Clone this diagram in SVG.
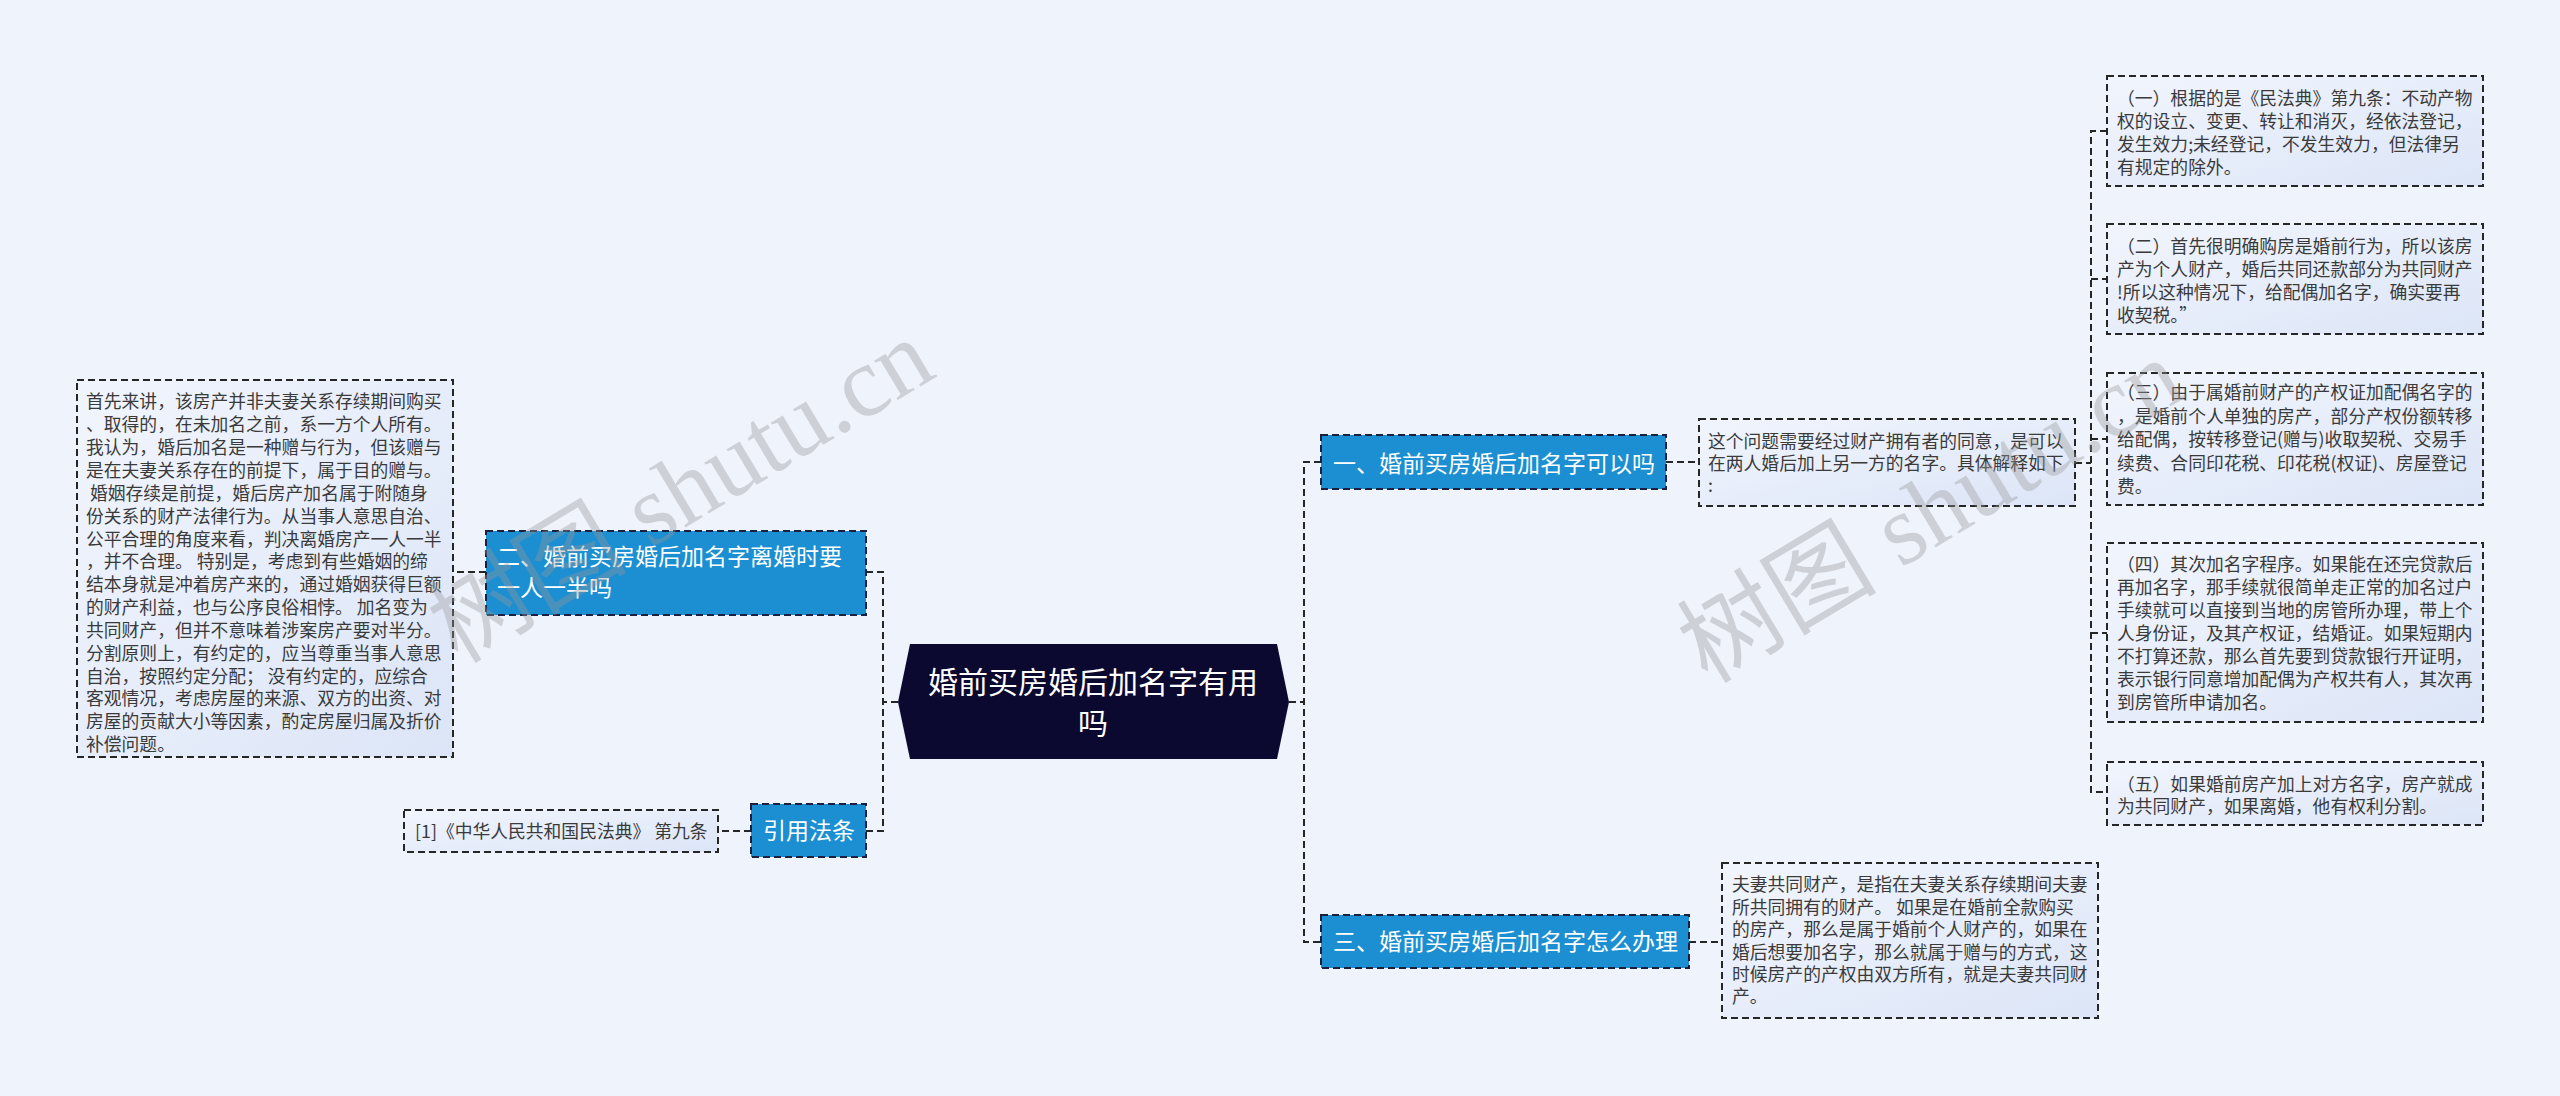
<svg xmlns="http://www.w3.org/2000/svg" width="2560" height="1096" viewBox="0 0 2560 1096">
<defs>
<linearGradient id="leafFill" x1="0" y1="0" x2="1" y2="1">
<stop offset="0" stop-color="#f1f5fd"/>
<stop offset="1" stop-color="#dce5f7"/>
</linearGradient>
</defs>
<style>
text{font-family:"Noto Sans CJK SC","Noto Sans",sans-serif;}
.leaf{fill:url(#leafFill);stroke:#262626;stroke-width:2;stroke-dasharray:7 4;}
.branch{fill:#1b8fd1;stroke:#1a2040;stroke-width:2;stroke-dasharray:7 4;}
.root{fill:#0b0930;}
.lt{font-size:17.8px;fill:#3a3a3a;}
.bt{font-size:23px;fill:#ffffff;}
.rt{font-size:30px;fill:#ffffff;}
.conn{fill:none;stroke:#262626;stroke-width:2;stroke-dasharray:7 4;}
.wm{font-family:"Liberation Serif","Noto Sans CJK SC",serif;font-size:100px;fill:#999999;fill-opacity:0.38;}
</style>
<rect x="0" y="0" width="2560" height="1096" fill="#eef3fc"/>

<g id="connectors">
<path class="conn" d="M898,702 H883"/>
<path class="conn" d="M866,572 H883 V831 H866"/>
<path class="conn" d="M751,831 H718"/>
<path class="conn" d="M486,572 H453"/>
<path class="conn" d="M1289,702 H1304"/>
<path class="conn" d="M1321,462 H1304 V942 H1321"/>
<path class="conn" d="M1666,462 H1699"/>
<path class="conn" d="M1689,942 H1722"/>
<path class="conn" d="M2075,463 H2091"/>
<path class="conn" d="M2107,131 H2091 V792 H2107"/>
<path class="conn" d="M2091,279 H2107"/>
<path class="conn" d="M2091,439 H2107"/>
<path class="conn" d="M2091,633 H2107"/>
</g>

<g id="root">
<polygon class="root" points="910,644 1277,644 1289,702 1277,759 910,759 898,702"/>
<text class="rt" x="1093" y="693" text-anchor="middle">婚前买房婚后加名字有用</text>
<text class="rt" x="1093" y="734" text-anchor="middle">吗</text>
</g>

<g id="branch2">
<rect class="branch" x="486" y="531" width="380" height="84"/>
<text class="bt" x="497" y="565">二、婚前买房婚后加名字离婚时要</text>
<text class="bt" x="497" y="596">一人一半吗</text>
</g>

<g id="leaf2">
<rect class="leaf" x="77" y="380" width="376" height="377"/>
<text class="lt" x="86" y="408.4">
<tspan x="86">首先来讲，该房产并非夫妻关系存续期间购买</tspan>
<tspan x="86" dy="22.85">、取得的，在未加名之前，系一方个人所有。</tspan>
<tspan x="86" dy="22.85">我认为，婚后加名是一种赠与行为，但该赠与</tspan>
<tspan x="86" dy="22.85">是在夫妻关系存在的前提下，属于目的赠与。</tspan>
<tspan x="86" dy="22.85" xml:space="preserve"> 婚姻存续是前提，婚后房产加名属于附随身</tspan>
<tspan x="86" dy="22.85">份关系的财产法律行为。从当事人意思自治、</tspan>
<tspan x="86" dy="22.85">公平合理的角度来看，判决离婚房产一人一半</tspan>
<tspan x="86" dy="22.85">，并不合理。 特别是，考虑到有些婚姻的缔</tspan>
<tspan x="86" dy="22.85">结本身就是冲着房产来的，通过婚姻获得巨额</tspan>
<tspan x="86" dy="22.85">的财产利益，也与公序良俗相悖。 加名变为</tspan>
<tspan x="86" dy="22.85">共同财产，但并不意味着涉案房产要对半分。</tspan>
<tspan x="86" dy="22.85">分割原则上，有约定的，应当尊重当事人意思</tspan>
<tspan x="86" dy="22.85">自治，按照约定分配； 没有约定的，应综合</tspan>
<tspan x="86" dy="22.85">客观情况，考虑房屋的来源、双方的出资、对</tspan>
<tspan x="86" dy="22.85">房屋的贡献大小等因素，酌定房屋归属及折价</tspan>
<tspan x="86" dy="22.85">补偿问题。</tspan>
</text>
</g>

<g id="cite">
<rect class="branch" x="751" y="804" width="115" height="53"/>
<text class="bt" x="763" y="839">引用法条</text>
</g>

<g id="citeLeaf">
<rect class="leaf" x="404" y="810" width="314" height="42"/>
<text class="lt" x="415" y="837.5">[1]《中华人民共和国民法典》 第九条</text>
</g>

<g id="branch1">
<rect class="branch" x="1321" y="435" width="345" height="54"/>
<text class="bt" x="1333" y="472">一、婚前买房婚后加名字可以吗</text>
</g>

<g id="leaf1">
<rect class="leaf" x="1699" y="419" width="376" height="87"/>
<text class="lt" x="1708" y="448">
<tspan x="1708">这个问题需要经过财产拥有者的同意，是可以</tspan>
<tspan x="1708" dy="22">在两人婚后加上另一方的名字。具体解释如下</tspan>
<tspan x="1708" dy="22">:</tspan>
</text>
</g>

<g id="sub1">
<rect class="leaf" x="2107" y="76" width="376" height="110"/>
<text class="lt" x="2117" y="105.4">
<tspan x="2117">（一）根据的是《民法典》第九条：不动产物</tspan>
<tspan x="2117" dy="22.7">权的设立、变更、转让和消灭，经依法登记，</tspan>
<tspan x="2117" dy="22.7">发生效力;未经登记，不发生效力，但法律另</tspan>
<tspan x="2117" dy="22.7">有规定的除外。</tspan>
</text>
</g>

<g id="sub2">
<rect class="leaf" x="2107" y="224" width="376" height="110"/>
<text class="lt" x="2117" y="253.4">
<tspan x="2117">（二）首先很明确购房是婚前行为，所以该房</tspan>
<tspan x="2117" dy="22.7">产为个人财产，婚后共同还款部分为共同财产</tspan>
<tspan x="2117" dy="22.7">!所以这种情况下，给配偶加名字，确实要再</tspan>
<tspan x="2117" dy="22.7">收契税。”</tspan>
</text>
</g>

<g id="sub3">
<rect class="leaf" x="2107" y="373" width="376" height="132"/>
<text class="lt" x="2117" y="399.4">
<tspan x="2117">（三）由于属婚前财产的产权证加配偶名字的</tspan>
<tspan x="2117" dy="23.4">，是婚前个人单独的房产，部分产权份额转移</tspan>
<tspan x="2117" dy="23.4">给配偶，按转移登记(赠与)收取契税、交易手</tspan>
<tspan x="2117" dy="23.4">续费、合同印花税、印花税(权证)、房屋登记</tspan>
<tspan x="2117" dy="23.4">费。</tspan>
</text>
</g>

<g id="sub4">
<rect class="leaf" x="2107" y="543" width="376" height="179"/>
<text class="lt" x="2117" y="571.4">
<tspan x="2117">（四）其次加名字程序。如果能在还完贷款后</tspan>
<tspan x="2117" dy="23">再加名字，那手续就很简单走正常的加名过户</tspan>
<tspan x="2117" dy="23">手续就可以直接到当地的房管所办理，带上个</tspan>
<tspan x="2117" dy="23">人身份证，及其产权证，结婚证。如果短期内</tspan>
<tspan x="2117" dy="23">不打算还款，那么首先要到贷款银行开证明，</tspan>
<tspan x="2117" dy="23">表示银行同意增加配偶为产权共有人，其次再</tspan>
<tspan x="2117" dy="23">到房管所申请加名。</tspan>
</text>
</g>

<g id="sub5">
<rect class="leaf" x="2107" y="762" width="376" height="63"/>
<text class="lt" x="2117" y="791.4">
<tspan x="2117">（五）如果婚前房产加上对方名字，房产就成</tspan>
<tspan x="2117" dy="22">为共同财产，如果离婚，他有权利分割。</tspan>
</text>
</g>

<g id="branch3">
<rect class="branch" x="1321" y="915" width="368" height="53"/>
<text class="bt" x="1333" y="950">三、婚前买房婚后加名字怎么办理</text>
</g>

<g id="leaf3">
<rect class="leaf" x="1722" y="863" width="376" height="155"/>
<text class="lt" x="1732" y="891.4">
<tspan x="1732">夫妻共同财产，是指在夫妻关系存续期间夫妻</tspan>
<tspan x="1732" dy="22.4">所共同拥有的财产。 如果是在婚前全款购买</tspan>
<tspan x="1732" dy="22.4">的房产，那么是属于婚前个人财产的，如果在</tspan>
<tspan x="1732" dy="22.4">婚后想要加名字，那么就属于赠与的方式，这</tspan>
<tspan x="1732" dy="22.4">时候房产的产权由双方所有，就是夫妻共同财</tspan>
<tspan x="1732" dy="22.4">产。</tspan>
</text>
</g>

<g id="watermarks">
<text class="wm" x="680" y="525" text-anchor="middle" transform="rotate(-31 680 490)">树图 shutu.cn</text>
<text class="wm" x="1930" y="545" text-anchor="middle" transform="rotate(-31 1930 510)">树图 shutu.cn</text>
</g>
</svg>
